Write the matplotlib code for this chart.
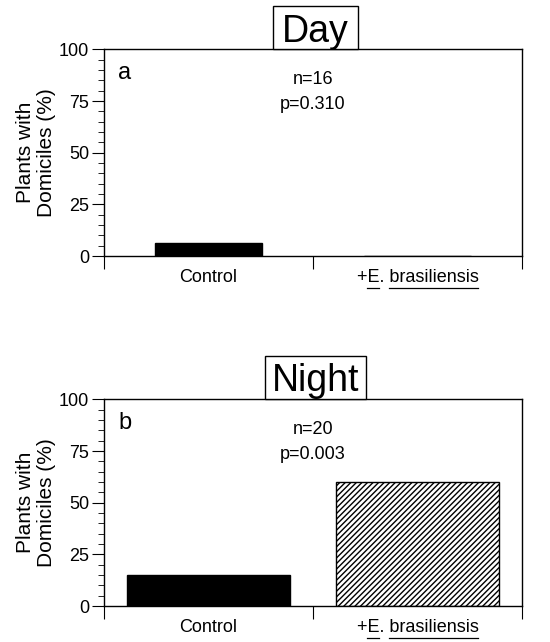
import matplotlib
matplotlib.use('Agg')
import matplotlib.pyplot as plt
from matplotlib.ticker import MultipleLocator
from matplotlib.lines import Line2D
from matplotlib.patches import Rectangle

plt.rcParams['font.family'] = 'Liberation Sans'
plt.rcParams['hatch.linewidth'] = 1.0

groups = ['Control', '+E. brasiliensis']
underlined = ['E', 'brasiliensis']
panelTitles = ['Day', 'Night']
panelLetters = ['a', 'b']
nValues = [16, 20]
pValues = ['0.310', '0.003']
dayPercent = [6.25, 0.0]
nightPercent = [15.0, 60.0]
barWidths = [0.51, 0.78]
# title box extents in x data units (left, right)
titleBoxes = [(0.809, 1.215), (0.770, 1.254)]

fig = plt.figure(figsize=(5.5, 6.42), dpi=100)
axDay = fig.add_axes([0.189, 0.601, 0.760, 0.322])
axNight = fig.add_axes([0.189, 0.056, 0.760, 0.322])

allPercent = [dayPercent, nightPercent]
for i, ax in enumerate([axDay, axNight]):
    pos = [0.5, 1.5]
    ax.bar(pos, allPercent[i], width=barWidths[i],
           color=['black', 'white'], edgecolor='black', linewidth=1.0,
           hatch=['', '//////'])
    ax.set_xlim(0, 2)
    ax.set_ylim(0, 100)
    ax.set_xticks([0, 1, 2])
    ax.set_xticklabels([])
    ax.set_xticks(pos, minor=True)
    ax.set_xticklabels(groups, minor=True, fontsize=13)
    ax.tick_params(axis='x', which='major', direction='out', length=9, width=0.8)
    ax.tick_params(axis='x', which='minor', length=0, pad=9)
    ax.yaxis.set_major_locator(MultipleLocator(25))
    ax.yaxis.set_minor_locator(MultipleLocator(5))
    ax.tick_params(axis='y', which='major', direction='out', length=9,
                   width=0.8, labelsize=13, pad=1.5)
    ax.tick_params(axis='y', which='minor', direction='out', length=4, width=0.6)
    for s in ax.spines.values():
        s.set_linewidth(1.0)
    ax.set_ylabel('Plants with\nDomiciles (%)', fontsize=15, labelpad=2,
                  linespacing=1.15)
    ax.text(0.034, 0.885, panelLetters[i], transform=ax.transAxes,
            fontsize=17, ha='left', va='center')
    ax.text(1.0, 0.855, 'n=%d' % nValues[i], fontsize=13,
            ha='center', va='center', transform=ax.get_xaxis_transform())
    ax.text(1.0, 0.735, 'p=' + pValues[i], fontsize=13,
            ha='center', va='center', transform=ax.get_xaxis_transform())
    bx0, bx1 = titleBoxes[i]
    ax.add_patch(Rectangle((bx0, 1.0), bx1 - bx0, 0.208,
                           transform=ax.get_xaxis_transform(), clip_on=False,
                           facecolor='white', edgecolor='black', linewidth=1.0,
                           zorder=3))
    ax.text((bx0 + bx1) / 2, 1.038, panelTitles[i], fontsize=27, ha='center',
            va='baseline', transform=ax.get_xaxis_transform(), zorder=4)

# underline the species name in the tick labels
fig.canvas.draw()
renderer = fig.canvas.get_renderer()
W, H = fig.bbox.width, fig.bbox.height
for ax in [axDay, axNight]:
    for lab in ax.get_xticklabels(minor=True):
        s = lab.get_text()
        if s != groups[1]:
            continue
        bb = lab.get_window_extent(renderer)
        prop = lab.get_fontproperties()
        _, _, desc = renderer.get_text_width_height_descent(s, prop, ismath=False)
        yline = bb.y0 + desc - 2
        for word in underlined:
            k = s.index(word)
            x0 = renderer.get_text_width_height_descent(s[:k], prop, ismath=False)[0] if k else 0
            x1 = renderer.get_text_width_height_descent(s[:k + len(word)], prop, ismath=False)[0]
            fig.add_artist(Line2D([(bb.x0 + x0) / W, (bb.x0 + x1) / W],
                                  [yline / H, yline / H], color='black',
                                  linewidth=0.9, transform=fig.transFigure))

fig.savefig('out.png', dpi=100)
